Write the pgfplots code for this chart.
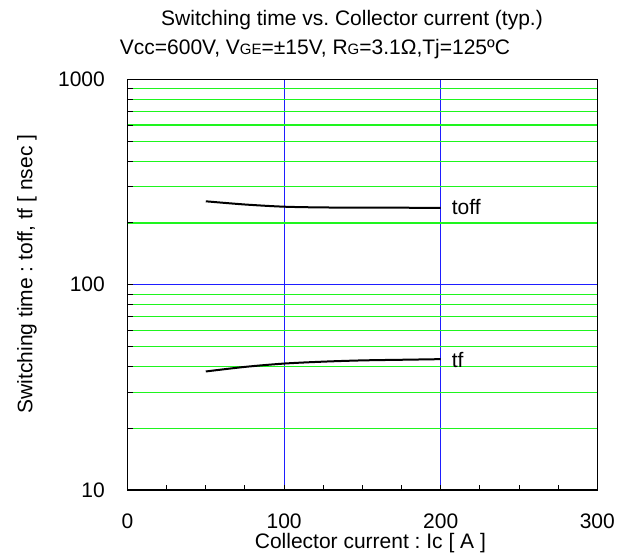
\documentclass[border=0pt]{standalone}
\usepackage{fontspec}
\setmainfont{Liberation Sans}
\usepackage{pgfplots}
\pgfplotsset{compat=1.18}
\definecolor{gridgreen}{RGB}{30,245,30}
\definecolor{gridblue}{RGB}{30,30,255}
\newcommand{\sm}[1]{{\fontsize{15bp}{17bp}\selectfont #1}}
\begin{document}
\frenchspacing
\fontsize{21bp}{25bp}\selectfont
\begin{tikzpicture}[x=1bp,y=1bp]
\path[use as bounding box] (0,0) rectangle (628,559);
\node[anchor=base west, inner sep=0pt] at (161,533.5) {Switching time vs. Collector current (typ.)};
\node[anchor=base west, inner sep=0pt] at (119.7,504.5) {Vcc=600V, V\sm{GE}=±15V, R\sm{G}=3.1Ω,Tj=125ºC};
\begin{axis}[
  at={(127.5bp,69bp)}, anchor=south west,
  scale only axis, width=469.8bp, height=410.5bp,
  xmin=0, xmax=300, ymode=log, ymin=10, ymax=1000,
  xtick={0,100,200,300}, xticklabels={0,100,200,300},
  minor x tick num=3,
  ytick={10,100,1000}, yticklabels={10,100,1000},
  xtick pos=bottom, ytick pos=left,
  tick align=inside,
  major tick length=5.5bp, minor tick length=5.5bp,
  every tick/.style={black, line width=1bp},
  xmajorgrids, ymajorgrids, yminorgrids,
  major grid style={gridblue, line width=1bp},
  minor grid style={gridgreen, line width=1.1bp},
  axis line style={black, line width=1.3bp},
  yticklabel style={inner sep=0pt, xshift=-22.5bp, font=\fontsize{21bp}{25bp}\selectfont},
  xticklabel style={inner sep=0pt, yshift=-24bp, font=\fontsize{21bp}{25bp}\selectfont},
  xlabel={Collector current : Ic [ A ]},
  ylabel={Switching time : toff, tf [ nsec ]},
  xlabel style={at={(axis description cs:0.517,-0.1291)}, anchor=center, inner sep=0pt, font=\fontsize{21bp}{25bp}\selectfont},
  ylabel style={at={(axis description cs:-0.2139,0.526)}, anchor=center, inner sep=0pt, font=\fontsize{21bp}{25bp}\selectfont},
  clip=false,
]
\addplot[black, line width=2bp, smooth, tension=0.5] coordinates {
  (50,255) (75,246) (100,240) (125,238) (150,237.5) (200,237)
};
\addplot[black, line width=2bp, smooth, tension=0.5] coordinates {
  (50,37.8) (75,39.8) (100,41.3) (125,42.2) (150,42.8) (175,43.1) (200,43.4)
};
\node[anchor=west, inner sep=0pt, font=\fontsize{21bp}{25bp}\selectfont] at (axis cs:207,239) {toff};
\node[anchor=west, inner sep=0pt, font=\fontsize{21bp}{25bp}\selectfont] at (axis cs:207,42.9) {tf};
\end{axis}
\end{tikzpicture}
\end{document}
